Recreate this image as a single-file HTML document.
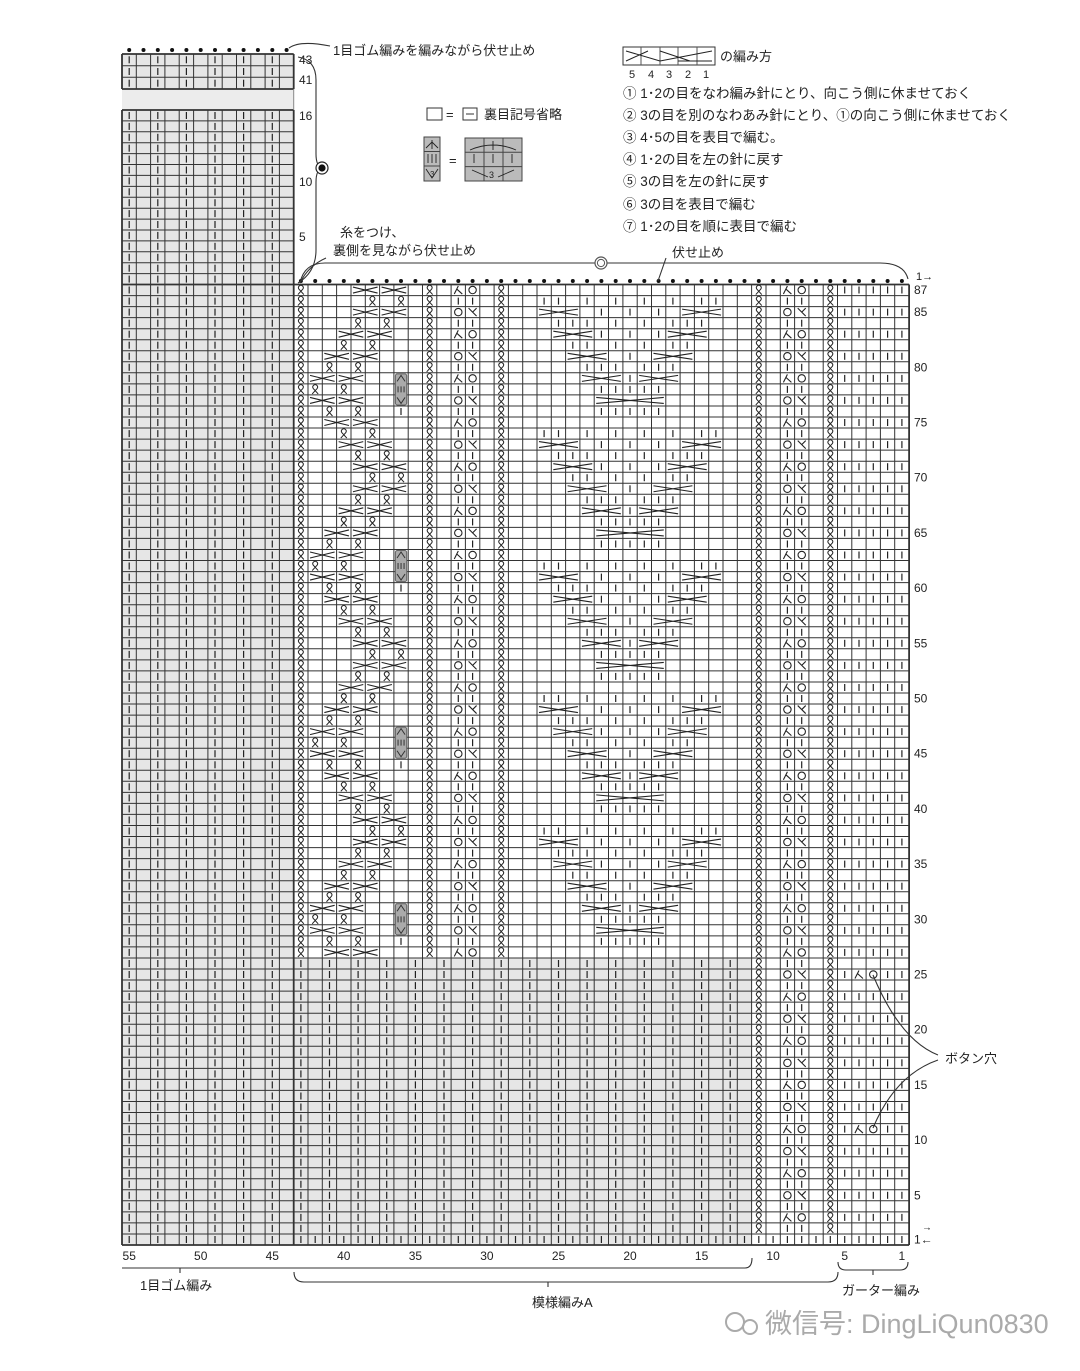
<!DOCTYPE html>
<html><head><meta charset="utf-8"><style>
html,body{margin:0;padding:0;background:#fff;}
svg{display:block;}
text{font-family:"Liberation Sans","Noto Sans CJK JP",sans-serif;fill:#222;}
</style></head><body>
<svg id="sv" width="1080" height="1371" viewBox="0 0 1080 1371" xmlns="http://www.w3.org/2000/svg">
<rect width="1080" height="1371" fill="#fff"/>
<g id="g"></g>
<!-- annotations -->
<g fill="none" stroke="#333" stroke-width="1.1">
<path d="M289 48 Q300 40 330 46"/>
<path d="M298 57 Q316 60 316 80 L316 154 Q316 166 322 168 Q316 170 316 182 L316 250 Q316 272 298 283"/>
<path d="M300 283 Q304 263 325 263 L880 263 Q904 263 908 279"/>
<path d="M666 258 L658 281"/>
<path d="M326 258 Q308 266 300 283"/>
<path d="M873 975 Q900 1040 938 1055"/>
<path d="M873 1128 Q895 1075 938 1060"/>
<path d="M122 1268 L745 1268 Q752 1268 752 1258 M180 1268 L180 1273"/>
<path d="M294 1272 Q294 1282 304 1282 L828 1282 Q838 1282 838 1272 M548 1282 L548 1287"/>
<path d="M838 1262 Q838 1270 846 1270 L900 1270 Q908 1270 908 1262 M873 1270 L873 1275"/>
</g>
<circle cx="322" cy="168" r="6" fill="#fff" stroke="#222" stroke-width="1.2"/>
<circle cx="322" cy="168" r="3.6" fill="#111"/>
<circle cx="601" cy="263" r="6" fill="#fff" stroke="#555" stroke-width="1.2"/>
<circle cx="601" cy="263" r="3.6" fill="#fff" stroke="#555" stroke-width="1"/>
<text x="333" y="55" font-size="13">1目ゴム編みを編みながら伏せ止め</text>
<text x="340" y="237" font-size="13">糸をつけ、</text>
<text x="333" y="255" font-size="13">裏側を見ながら伏せ止め</text>
<text x="672" y="257" font-size="13">伏せ止め</text>
<text x="945" y="1063" font-size="13">ボタン穴</text>
<text x="140" y="1290" font-size="13">1目ゴム編み</text>
<text x="532" y="1307" font-size="13">模様編みA</text>
<text x="842" y="1295" font-size="13">ガーター編み</text>
<!-- legend left -->
<rect x="427" y="108" width="15" height="12" fill="#fff" stroke="#333"/>
<text x="446" y="119" font-size="13">=</text>
<rect x="463" y="108" width="14" height="12" fill="#fff" stroke="#333"/>
<line x1="466" y1="114" x2="474" y2="114" stroke="#333"/>
<text x="484" y="119" font-size="13">裏目記号省略</text>
<rect x="424" y="137" width="16" height="44" fill="#bbb" stroke="#444"/>
<line x1="424" y1="151.5" x2="440" y2="151.5" stroke="#444"/><line x1="424" y1="166" x2="440" y2="166" stroke="#444"/>
<path d="M426 148 L432 142 L438 148 M432 140 L432 149 M428 154 L428 163 M432 154 L432 163 M436 154 L436 163 M426 169 L432 178 L438 169" stroke="#222" fill="none" stroke-width="0.9"/>
<text x="449" y="165" font-size="13">=</text>
<rect x="465" y="138" width="57" height="43" fill="#bbb" stroke="#444"/>
<path d="M465 152.3 H522 M465 166.6 H522 M484 138 V181 M503 138 V181" stroke="#444" fill="none"/>
<path d="M470 150 Q493 140 516 150 M493 141 V150 M474 154 V163 M493 154 V163 M512 154 V163 M472 170 L488 177 M514 170 L498 177" stroke="#222" fill="none" stroke-width="0.9"/>
<text x="489" y="178" font-size="9">3</text>
<text x="430" y="177" font-size="8">3</text>
<!-- legend right -->
<rect x="623" y="47" width="92" height="18" fill="#fff" stroke="#333"/>
<path d="M641 47 V65 M660 47 V65 M678 47 V65 M697 47 V65" stroke="#555"/>
<path d="M626 51 L660 61 M626 61 L648 51 M660 51 L690 61 M660 61 L712 51 M678 61 L712 61" stroke="#222" fill="none"/>
<text x="720" y="61" font-size="13">の編み方</text>
<text x="629" y="78" font-size="11">5</text><text x="648" y="78" font-size="11">4</text><text x="666" y="78" font-size="11">3</text><text x="685" y="78" font-size="11">2</text><text x="703" y="78" font-size="11">1</text>
<g font-size="13.5">
<text x="623" y="98">① 1･2の目をなわ編み針にとり、向こう側に休ませておく</text>
<text x="623" y="120">② 3の目を別のなわあみ針にとり、①の向こう側に休ませておく</text>
<text x="623" y="142">③ 4･5の目を表目で編む。</text>
<text x="623" y="164">④ 1･2の目を左の針に戻す</text>
<text x="623" y="186">⑤ 3の目を左の針に戻す</text>
<text x="623" y="209">⑥ 3の目を表目で編む</text>
<text x="623" y="231">⑦ 1･2の目を順に表目で編む</text>
</g>
<!-- watermark -->
<g fill="none" stroke="#aaa" stroke-width="2"><circle cx="735" cy="1322" r="9"/><circle cx="750" cy="1327" r="7"/></g>
<text x="765" y="1333" font-size="27" style="fill:#aaa">微信号: DingLiQun0830</text>
</svg>
<script>
(function(){
var W=14.31,L=122,B=1245,H=11.04,R=L+55*W,T=B-87*H;
var s='';
function cx(c){return L+(55-c+0.5)*W;}
function cy(r){return B-(r-0.5)*H;}
function ln(x1,y1,x2,y2,w,col){s+='<line x1="'+x1.toFixed(1)+'" y1="'+y1.toFixed(1)+'" x2="'+x2.toFixed(1)+'" y2="'+y2.toFixed(1)+'" stroke="'+(col||'#222')+'" stroke-width="'+(w||1)+'"/>';}
function rect(x,y,w,h,f){s+='<rect x="'+x.toFixed(1)+'" y="'+y.toFixed(1)+'" width="'+w.toFixed(1)+'" height="'+h.toFixed(1)+'" fill="'+f+'"/>';}
function bar(x,y){ln(x,y-3.5,x,y+3.5,1.2);}
function tw(x,y){s+='<path d="M'+(x-3)+' '+(y+4.5)+' L'+(x+2)+' '+(y-1)+' A2.4 2.4 0 1 0 '+(x-2)+' '+(y-1)+' L'+(x+3)+' '+(y+4.5)+'" fill="none" stroke="#222" stroke-width="1"/>';}
function yo(x,y){s+='<circle cx="'+x+'" cy="'+y+'" r="3.7" fill="none" stroke="#222" stroke-width="1.1"/>';}
function decA(x,y){s+='<path d="M'+(x-4)+' '+(y+4)+' L'+x+' '+(y-4)+' M'+(x-1.5)+' '+(y-1)+' L'+(x+4)+' '+(y+4)+'" fill="none" stroke="#222" stroke-width="1.1"/>';}
function decB(x,y){s+='<path d="M'+(x-4)+' '+(y-4)+' L'+(x+4)+' '+(y+4)+' M'+(x+4)+' '+(y-4)+' L'+x+' '+y+'" fill="none" stroke="#222" stroke-width="1.1"/>';}
function cross(cA,cB,r){var xa=cx(cA)-W/2+2,xb=cx(cB)+W/2-2,y=cy(r);
 s+='<path d="M'+xa+' '+(y-3)+' L'+xb+' '+(y+3)+' M'+xa+' '+(y+3)+' L'+xb+' '+(y-3)+'" fill="none" stroke="#222" stroke-width="1.1"/>';}
// gray fills
rect(L,T,12*W,87*H,'#e6e6e6');
rect(L,110,12*W,T-110,'#e6e6e6');
rect(L,89,12*W,21,'#ececec');
rect(L,54,12*W,35,'#e6e6e6');
rect(L+12*W,B-26*H,32*W,26*H,'#e6e6e6');
rect(L,B-H,44*W,H,'#e6e6e6');
// grid main
for(var i=0;i<=55;i++){var x=L+i*W;ln(x,T,x,B,(i==0||i==55||i==12)?1.8:1,'#333');}
for(var r=0;r<=87;r++){var y=B-r*H;ln(L,y,R,y,(r==0||r==87)?1.8:1,'#333');}
// left top grids
var t16=(T-110)/16;
for(var i=0;i<=12;i++){var x=L+i*W;ln(x,110,x,T,(i==0||i==12)?1.8:1,'#333');ln(x,54,x,89,(i==0||i==12)?1.8:1,'#333');}
for(var k=0;k<=16;k++){ln(L,110+k*t16,L+12*W,110+k*t16,(k==0)?1.8:1,'#333');}
for(var k=0;k<=3;k++){ln(L,54+k*35/3,L+12*W,54+k*35/3,(k==0||k==3)?1.8:1,'#333');}
ln(L+12*W,89,L+12*W,110,1,'#888');
// left rib marks
for(var c=55;c>=44;c-=2){var x=cx(c);
 for(var r=1;r<=87;r++)bar(x,cy(r));
 for(var k=0;k<16;k++)bar(x,110+(k+0.5)*t16);
 for(var k=0;k<3;k++)bar(x,54+(k+0.5)*35/3);}
// row 1
for(var c=1;c<=43;c++)bar(cx(c),cy(1));
// gray area rows 2..26
for(var r=2;r<=26;r++)for(var c=43;c>=13;c-=2)bar(cx(c),cy(r));
// twisted
for(var r=27;r<=87;r++){tw(cx(43),cy(r));tw(cx(34),cy(r));tw(cx(29),cy(r));}
for(var r=2;r<=87;r++){tw(cx(11),cy(r));tw(cx(6),cy(r));}
function yod(cA,cB,r){if(r%2==1){if(((r-1)/2)%2==1){decA(cx(cA),cy(r));yo(cx(cB),cy(r));}else{yo(cx(cA),cy(r));decB(cx(cB),cy(r));}}else{bar(cx(cA),cy(r));bar(cx(cB),cy(r));}}
for(var r=27;r<=87;r++)yod(32,31,r);
for(var r=2;r<=87;r++)yod(9,8,r);
// garter
for(var r=3;r<=87;r+=2){for(var c=5;c>=1;c--){if((r==25||r==11)&&c==4){decA(cx(4),cy(r));}else if((r==25||r==11)&&c==3){yo(cx(3),cy(r));}else bar(cx(c),cy(r));}}
// left cable
var offs=[0,0,1,2,3,3,2,1];
function off(r){return offs[((87-r)/2)%8];}
for(var r=87;r>=27;r-=2){var o=off(r);cross(39+o,38+o,r);cross(37+o,36+o,r);
 if(r-2>=27){var o2=off(r-2),a,b;if(o==o2){if(o==0){a=38;b=36;}else{a=42;b=40;}}else{var m=Math.max(o,o2);a=38+m;b=36+m;}
  tw(cx(a),cy(r-1));tw(cx(b),cy(r-1));}}
// bobbles
[79,63,47,31].forEach(function(r){var x=cx(36)-W/2,y=cy(r)-H/2;
 s+='<rect x="'+(x+1.5)+'" y="'+(y+1)+'" width="'+(W-3)+'" height="'+(3*H-2)+'" rx="2" fill="#aaa" stroke="#666"/>';
 var xc=cx(36);s+='<path d="M'+(xc-4)+' '+(cy(r)+3)+' L'+xc+' '+(cy(r)-3)+' L'+(xc+4)+' '+(cy(r)+3)+' M'+(xc-3)+' '+(cy(r-1)-3)+' V'+(cy(r-1)+3)+' M'+xc+' '+(cy(r-1)-3)+' V'+(cy(r-1)+3)+' M'+(xc+3)+' '+(cy(r-1)-3)+' V'+(cy(r-1)+3)+' M'+(xc-4)+' '+(cy(r-2)-3)+' L'+xc+' '+(cy(r-2)+3)+' L'+(xc+4)+' '+(cy(r-2)-3)+'" fill="none" stroke="#333" stroke-width="1"/>';
 bar(xc,cy(r-3));});
// diamonds
var D=[['m',[26,25,23,21,19,17,15,14]],['x',[[26,24],[16,14]],[22,20,18]],['m',[25,24,23,21,19,17,16,15]],['x',[[25,23],[17,15]],[22,20,18]],['m',[24,23,21,19,17,16]],['x',[[24,22],[18,16]],[20]],['m',[23,22,21,19,18,17]],['x',[[23,21],[19,17]],[20]],['m',[22,21,20,19,18]],['x',[[22,18]],[]],['m',[22,21,20,19,18]],['m',[]]];
[86,74,62,50,38].forEach(function(r0){D.forEach(function(d,k){var r=r0-k;
 if(d[0]=='m'){d[1].forEach(function(c){bar(cx(c),cy(r));});}
 else{d[1].forEach(function(p){cross(p[0],p[1],r);});d[2].forEach(function(c){bar(cx(c),cy(r));});}});});
// top dots
for(var c=55;c>=44;c--){s+='<circle cx="'+cx(c).toFixed(1)+'" cy="50" r="2" fill="#111"/>';}
for(var c=43;c>=1;c--){s+='<circle cx="'+cx(c).toFixed(1)+'" cy="281" r="2" fill="#111"/>';}
// labels
function tx(x,y,t,fs,anc){s+='<text x="'+x+'" y="'+y+'" font-size="'+(fs||12)+'"'+(anc?' text-anchor="'+anc+'"':'')+'>'+t+'</text>';}
tx(914,cy(87)+4,'87');
for(var r=85;r>=5;r-=5)tx(914,cy(r)+4,String(r));
tx(914,cy(1)+4,'1←',12);tx(922,cy(2)+2,'→',10);
tx(916,280,'1→',11);
tx(299,64,'43');tx(299,84,'41');tx(299,120,'16');tx(299,186,'10');tx(299,241,'5');
var cols=[55,50,45,40,35,30,25,20,15,10,5,1];
cols.forEach(function(c){tx(cx(c).toFixed(1),1260,String(c),12,'middle');});
document.getElementById('g').innerHTML=s;
})();
</script>
</body></html>
